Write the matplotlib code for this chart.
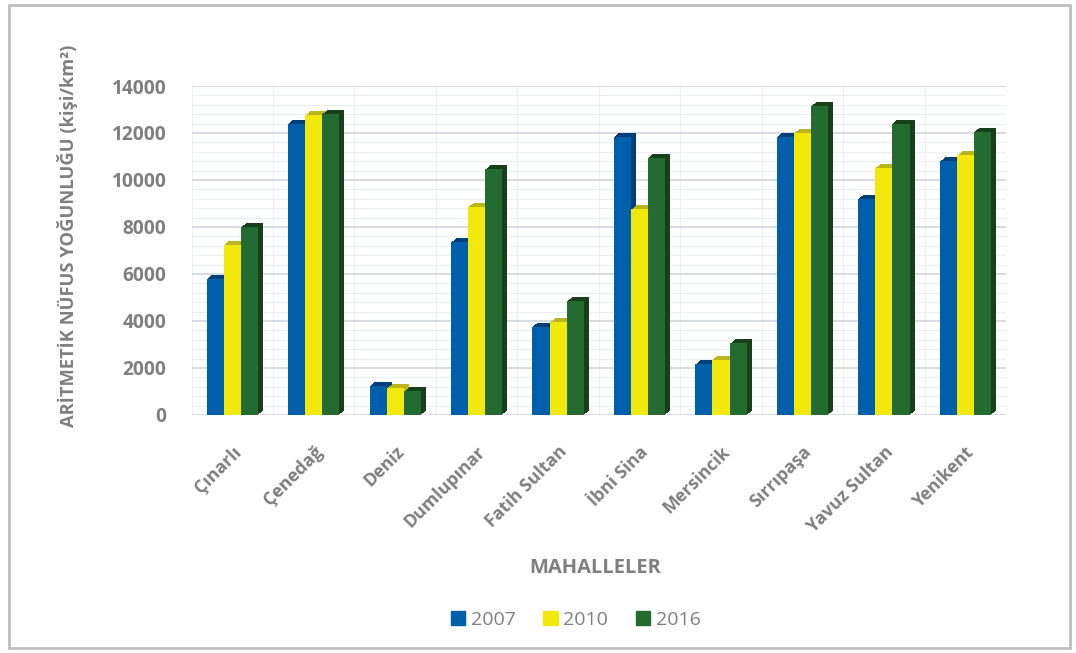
import numpy as np
import matplotlib
matplotlib.use('Agg')
import matplotlib.pyplot as plt
import matplotlib.transforms as mtransforms
from matplotlib.patches import Rectangle, Patch
from matplotlib.ticker import MultipleLocator

plt.rcParams['font.family'] = ['Open Sans', 'DejaVu Sans']

# data
mahalleler = ['Çınarlı', 'Çenedağ', 'Deniz', 'Dumlupınar', 'Fatih Sultan',
              'İbni Sina', 'Mersincik', 'Sırrıpaşa', 'Yavuz Sultan', 'Yenikent']
years = ['2007', '2010', '2016']
d2007 = [5800, 12400, 1250, 7350, 3750, 11850, 2150, 11850, 9200, 10800]
d2010 = [7250, 12750, 1150, 8850, 3950, 8750, 2350, 12000, 10500, 11050]
d2016 = [8000, 12800, 1000, 10450, 4850, 10950, 3050, 13150, 12400, 12050]

colors = ['#005FAA', '#F2E80C', '#236B30']
dark = ['#003E7A', '#B9B51A', '#173F1A']
grey = '#7F7F7F'

fig = plt.figure(figsize=(10.76, 6.53), dpi=100)
ax = fig.add_axes([0.178, 0.3645, 0.757, 0.5038])

x = np.arange(len(mahalleler))
w = 0.21
series = [d2007, d2010, d2016]
# depth: stacked darker copies shifted up/right behind each bar
for i, vals in enumerate(series):
    pos = x + (i - 1) * w
    for k in range(1, 6):
        shift = mtransforms.offset_copy(ax.transData, fig=fig, x=k,
                                        y=0.8 * k, units='dots')
        ax.bar(pos, vals, w, color=dark[i], transform=shift,
               zorder=2 + i * 2, linewidth=0)
    ax.bar(pos, vals, w, color=colors[i], zorder=3 + i * 2, linewidth=0)

ax.set_xlim(-0.5, 9.5)
ax.set_ylim(0, 14000)
ax.yaxis.set_major_locator(MultipleLocator(2000))
ax.yaxis.set_minor_locator(MultipleLocator(400))
ax.set_axisbelow(True)
ax.grid(which='major', axis='y', color='#D3D8DF', linewidth=1.3)
ax.grid(which='minor', axis='y', color='#EBEEF2', linewidth=0.8)
ax.set_xticks(x)
ax.set_xticks(np.arange(-0.5, 10, 0.5), minor=True)
ax.grid(which='minor', axis='x', color='#EEF0F3', linewidth=0.8)
for s in ax.spines.values():
    s.set_visible(False)
ax.axhline(0, color='#D9DDE3', linewidth=1.5, zorder=1)

ax.tick_params(axis='both', which='both', length=0)
ax.tick_params(axis='y', pad=18)
ax.set_yticks(np.arange(0, 14001, 2000))
ax.set_yticklabels([str(v) for v in range(0, 14001, 2000)],
                   fontsize=13.8, fontweight='bold', color=grey)
ax.set_xticklabels(mahalleler, rotation=45, ha='right', rotation_mode='anchor',
                   fontsize=12.8, fontweight='bold', color=grey)
ax.tick_params(axis='x', pad=20)

fig.text(68 / 1076, 1 - 236 / 653, 'ARİTMETİK NÜFUS YOĞUNLUĞU (kişi/km²)',
         fontsize=13.2, fontweight='bold', color=grey, rotation=90,
         ha='center', va='center')
fig.text(0.553, 1 - 568 / 653, 'MAHALLELER', fontsize=14.5, fontweight='bold',
         color=grey, ha='center', va='center')

handles = [Patch(color=c) for c in colors]
fig.legend(handles, years, loc='center', bbox_to_anchor=(0.535, 1 - 620 / 653),
           ncol=3, frameon=False, fontsize=14, labelcolor=grey,
           handlelength=0.75, handleheight=0.75, handletextpad=0.3,
           columnspacing=1.4)

fig.patches.append(Rectangle((0.008, 0.008), 0.986, 0.984,
                             transform=fig.transFigure, fill=False,
                             edgecolor='#BFBFBF', linewidth=2))

plt.savefig('out.png', dpi=100)
